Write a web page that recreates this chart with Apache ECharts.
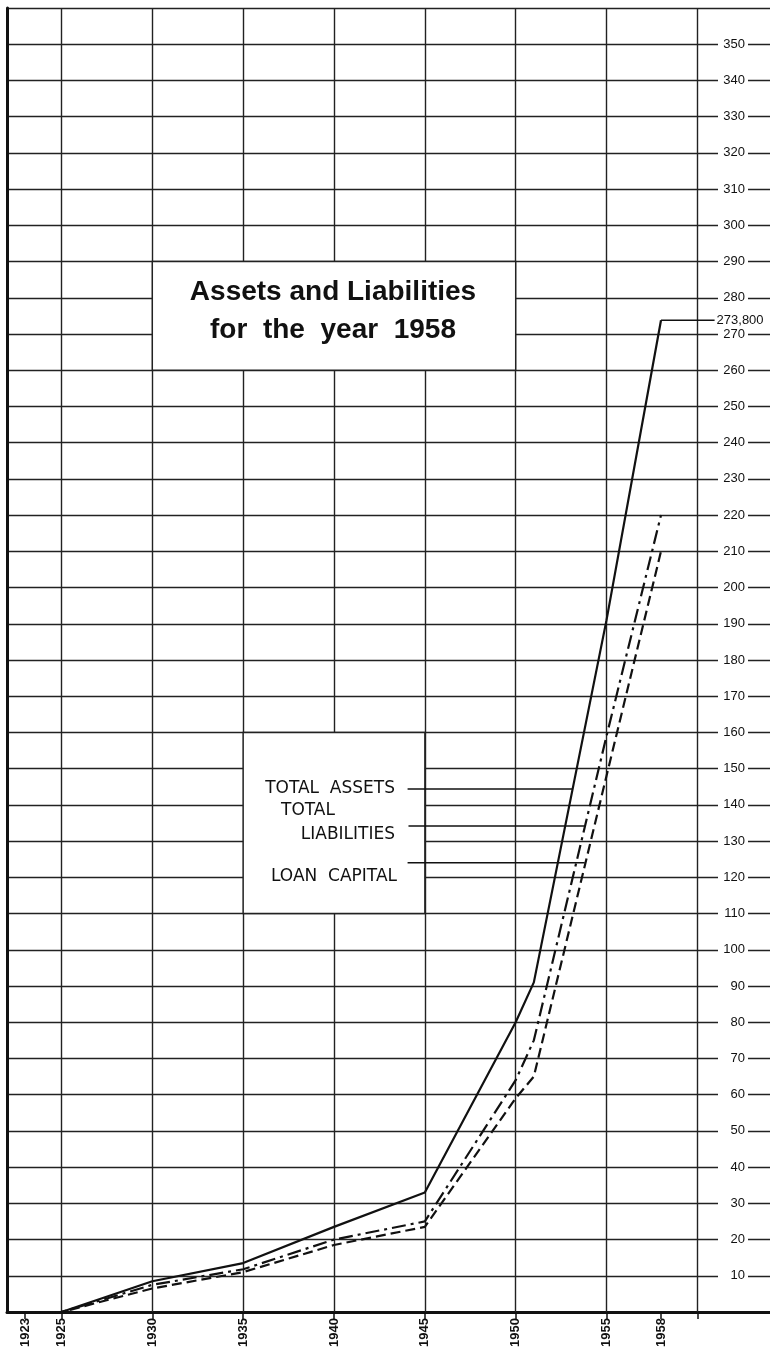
<!DOCTYPE html>
<html><head><meta charset="utf-8">
<script src="https://cdn.jsdelivr.net/npm/echarts@6/dist/echarts.min.js"></script>
<style>html,body{margin:0;padding:0;background:#fff}#c{width:770px;height:1351px}</style>
</head><body><div id="c"></div>
<script>
// ---- data ----
const years = [1923, 1925, 1930, 1935, 1940, 1945, 1950, 1951, 1955, 1958];
const totalAssets = [0, 0, 8.5, 13.5, 23.5, 33, 80, 91, 191, 273.8];
const totalLiabilities = [0, 0, 7.5, 11.8, 20, 25, 64, 75, 159, 220];
const loanCapital = [0, 0, 6.5, 11, 18.5, 23.5, 59, 65, 148, 210];

const xLabelYears = [1923, 1925, 1930, 1935, 1940, 1945, 1950, 1955, 1958];
const xTickYears = [1923, 1925, 1930, 1935, 1940, 1945, 1950, 1955, 1958, 1960];
const gridYears = [1925, 1930, 1935, 1940, 1945, 1950, 1955, 1960];
const yLabels = [10, 20, 30, 40, 50, 60, 70, 80, 90, 100, 110, 120, 130, 140, 150, 160, 170, 180, 190, 200,
                 210, 220, 230, 240, 250, 260, 270, 280, 290, 300, 310, 320, 330, 340, 350];
const finalAssetsText = '273,800';
const titleLines = ['Assets and Liabilities', 'for  the  year  1958'];
const legendNames = ['TOTAL  ASSETS', 'TOTAL', 'LIABILITIES', 'LOAN  CAPITAL'];
// leader lines: [value level, from year, to year]
const leaderAssets = [144.4, 1944.05, 1953.1];
const leaderLiabilities = [134.2, 1944.1, 1953.8];
const leaderLoan = [124.0, 1944.05, 1953.8];
// boxes in data units: [x1, y1, x2, y2]
const titleBox = [1930, 260, 1950, 290];
const legendBox = [1935, 110, 1945, 160];

const INK = '#111';
const pair = (arr) => years.map((y, i) => [y, arr[i]]);
const leader = (l) => [[l[1], l[0]], [l[2], l[0]]];
const box = (b) => [{ xAxis: b[0], yAxis: b[1] }, { xAxis: b[2], yAxis: b[3] }];

const chart = echarts.init(document.getElementById('c'), null, { renderer: 'canvas' });
const legendFont = 'normal 17px "DejaVu Sans", sans-serif';
chart.setOption({
  animation: false,
  backgroundColor: '#fff',
  grid: { left: 7, right: 0, top: 8, bottom: 39, outerBoundsMode: 'none', containLabel: false },
  xAxis: {
    type: 'value', min: 1922, max: 1964,
    axisLine: { show: true, onZero: false, lineStyle: { color: INK, width: 3 } },
    axisTick: { show: true, customValues: xTickYears, length: 7, lineStyle: { color: INK, width: 1.5 } },
    axisLabel: { show: true, customValues: xLabelYears, rotate: 90, margin: 6, fontSize: 13, fontWeight: 'bold',
                 color: INK, fontFamily: '"Liberation Sans", sans-serif', formatter: v => String(v) },
    splitLine: { show: false }
  },
  yAxis: [
    {
      type: 'value', min: 0, max: 360, interval: 10, position: 'left',
      axisLine: { show: true, lineStyle: { color: INK, width: 3 } },
      axisTick: { show: false }, axisLabel: { show: false },
      splitLine: { show: true, lineStyle: { color: '#222', width: 1.4 } }
    },
    {
      type: 'value', min: 0, max: 360, interval: 10, position: 'right', z: 4,
      axisLine: { show: false }, axisTick: { show: false }, splitLine: { show: false },
      axisLabel: {
        show: true, inside: true, customValues: yLabels, margin: 22, align: 'right',
        width: 27, padding: [1, 3, 1, 0], backgroundColor: '#fff', overflow: 'none',
        fontSize: 13, color: INK, fontFamily: '"Liberation Sans", sans-serif', formatter: v => String(v)
      }
    }
  ],
  graphic: [
    { type: 'text', x: 333, y: 292, z: 100, style: { text: titleLines[0], align: 'center', verticalAlign: 'middle', font: 'bold 28px "Liberation Sans", sans-serif', fill: INK } },
    { type: 'text', x: 333, y: 330, z: 100, style: { text: titleLines[1], align: 'center', verticalAlign: 'middle', font: 'bold 28px "Liberation Sans", sans-serif', fill: INK } },
    { type: 'text', x: 395, y: 789, z: 100, style: { text: legendNames[0], align: 'right', verticalAlign: 'middle', font: legendFont, fill: INK } },
    { type: 'text', x: 281, y: 811, z: 100, style: { text: legendNames[1], align: 'left', verticalAlign: 'middle', font: legendFont, fill: INK } },
    { type: 'text', x: 395, y: 835, z: 100, style: { text: legendNames[2], align: 'right', verticalAlign: 'middle', font: legendFont, fill: INK } },
    { type: 'text', x: 397, y: 877, z: 100, style: { text: legendNames[3], align: 'right', verticalAlign: 'middle', font: legendFont, fill: INK } }
  ],
  series: [
    {
      type: 'line', data: [], silent: true,
      markLine: {
        z: 1, silent: true, symbol: ['none', 'none'], label: { show: false },
        lineStyle: { color: '#222', width: 1.4, type: 'solid' },
        data: gridYears.map(y => ({ xAxis: y }))
      },
      markArea: {
        z: 2, silent: true,
        itemStyle: { color: '#fff', borderColor: '#222', borderWidth: 1.4 },
        data: [box(titleBox), box(legendBox)]
      }
    },
    { name: 'Total Assets', type: 'line', z: 3, data: pair(totalAssets), showSymbol: false,
      lineStyle: { color: INK, width: 2.2, type: 'solid' } },
    { name: 'Total Liabilities', type: 'line', z: 3, data: pair(totalLiabilities), showSymbol: false,
      lineStyle: { color: INK, width: 2.2, type: [14, 5, 3, 5] } },
    { name: 'Loan Capital', type: 'line', z: 3, data: pair(loanCapital), showSymbol: false,
      lineStyle: { color: INK, width: 2.2, type: [10, 5] } },
    { type: 'line', z: 3, data: [[1958, totalAssets[totalAssets.length - 1]], [1960.95, totalAssets[totalAssets.length - 1]]],
      showSymbol: false, lineStyle: { color: INK, width: 1.5 },
      endLabel: { show: true, formatter: finalAssetsText, distance: 2, fontSize: 13, color: INK,
                  fontFamily: '"Liberation Sans", sans-serif' } },
    { type: 'line', z: 3, data: leader(leaderAssets), showSymbol: false, lineStyle: { color: INK, width: 1.5 } },
    { type: 'line', z: 3, data: leader(leaderLiabilities), showSymbol: false, lineStyle: { color: INK, width: 1.5 } },
    { type: 'line', z: 3, data: leader(leaderLoan), showSymbol: false, lineStyle: { color: INK, width: 1.5 } }
  ]
});
</script></body></html>
